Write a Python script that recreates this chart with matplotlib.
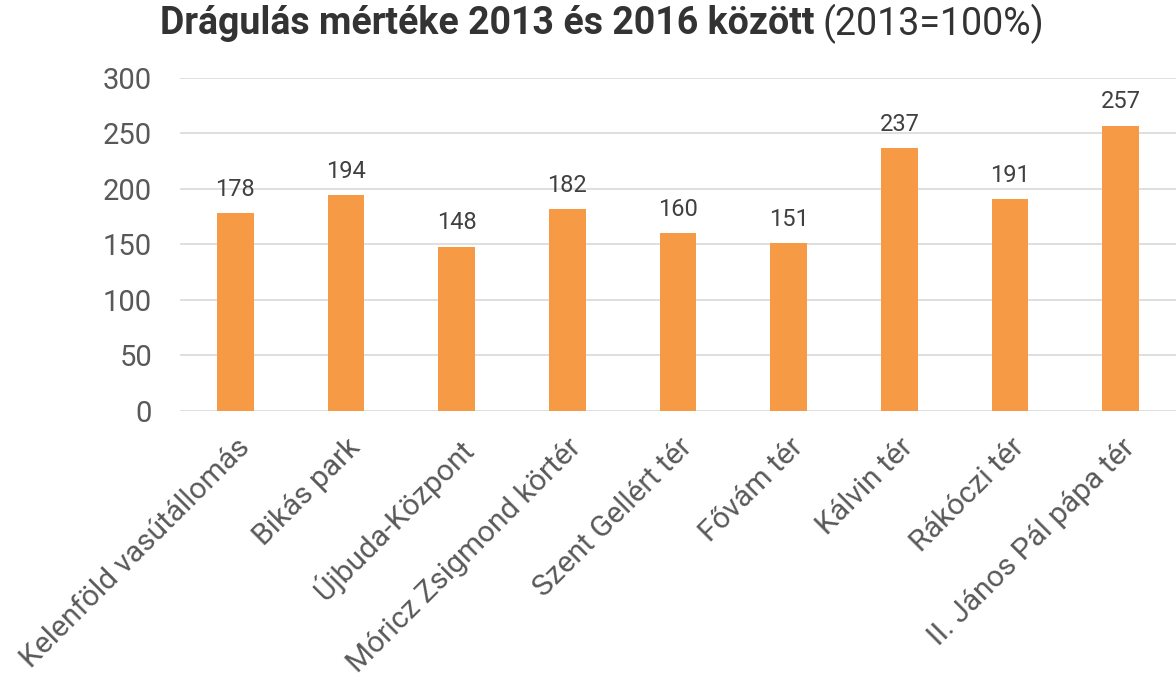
import matplotlib
matplotlib.use("Agg")
import matplotlib.pyplot as plt
import numpy as np

categories = [
    "Kelenföld vasútállomás", "Bikás park", "Újbuda-Központ",
    "Móricz Zsigmond körtér", "Szent Gellért tér", "Fővám tér",
    "Kálvin tér", "Rákóczi tér", "II. János Pál pápa tér",
]
values = [178, 194, 148, 182, 160, 151, 237, 191, 257]
yticks = [0, 50, 100, 150, 200, 250, 300]

plt.rcParams["font.family"] = ["Roboto", "DejaVu Sans"]

fig = plt.figure(figsize=(11.76, 6.76), dpi=100)
ax = fig.add_axes([0.153, 0.392, 0.847, 0.493])

x = np.arange(len(categories))
bars = ax.bar(x, values, width=0.33, color="#F79A45", zorder=3)
for b, v in zip(bars, values):
    ax.text(b.get_x() + b.get_width() / 2, v + 11, str(v),
            ha="center", va="bottom", fontsize=17, color="#404040")

ax.set_xlim(-0.5, len(categories) - 0.5)
ax.set_ylim(0, 300)
ax.set_yticks(yticks)
ax.set_yticklabels([str(t) for t in yticks], fontsize=21, color="#595959")
ax.yaxis.grid(True, color="#d9d9d9", linewidth=1.2, zorder=0)
ax.set_axisbelow(True)
for s in ax.spines.values():
    s.set_visible(False)
ax.tick_params(axis="y", length=0, pad=20)
ax.tick_params(axis="x", length=0, pad=16)
ax.set_xticks(x)
ax.set_xticklabels(categories, rotation=45, ha="right", rotation_mode="anchor",
                   fontsize=21.5, color="#595959")

fig.text(0.693, 0.965, "Drágulás mértéke 2013 és 2016 között", ha="right", va="center",
         fontsize=27, fontweight="bold", color="#333333")
fig.text(0.699, 0.965, "(2013=100%)", ha="left", va="center",
         fontsize=27, color="#333333")

fig.savefig("out.png", dpi=100)
